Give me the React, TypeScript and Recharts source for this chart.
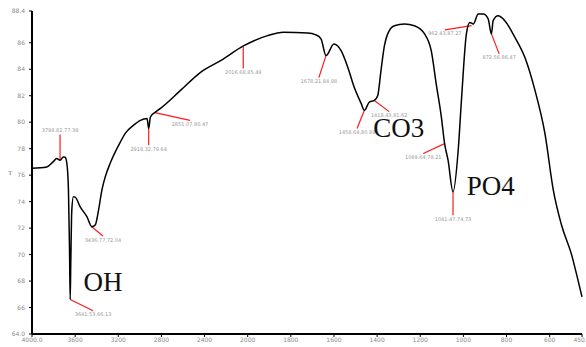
import { LineChart, Line, XAxis, YAxis, ReferenceLine, ReferenceDot } from 'recharts'

// FTIR spectrum, wavenumber (cm-1) vs transmittance
const wavenumbers = [
  4000, 3863, 3805, 3770, 3740, 3709, 3693, 3677, 3662, 3652, 3646, 3640, 3631, 3616, 3600,
  3553, 3491, 3445, 3414, 3383, 3352, 3321, 3275, 3181, 3135, 3060, 2995, 2933, 2918, 2902,
  2856, 2809, 2623, 2437, 2251, 2035, 1908, 1833, 1722, 1684, 1660, 1637, 1600, 1567, 1536,
  1506, 1474, 1459, 1436, 1413, 1397, 1382, 1366, 1351, 1320, 1273, 1227, 1180, 1149, 1126,
  1102, 1087, 1071, 1048, 1024, 1009, 986, 970, 954, 931, 908, 885, 870, 862, 839,
  808, 761, 715, 668, 622, 583, 545, 498, 475, 450,
]
const transmittance = [
  76.52, 76.62, 77.0, 77.25, 77.12, 77.37, 77.35, 76.9, 74.87, 70.35, 66.6, 69.6, 73.36, 74.36, 74.34,
  73.6, 72.86, 72.1, 72.23, 73.36, 74.87, 75.87, 76.9, 78.5, 79.16, 79.76, 80.14, 80.27, 79.53, 80.39,
  80.76, 81.04, 82.4, 83.77, 84.65, 85.78, 86.54, 86.79, 86.74, 86.6, 86.3, 85.03, 85.9, 85.4, 84.15,
  82.64, 81.42, 80.9, 81.52, 81.64, 82.02, 83.9, 85.78, 86.67, 87.29, 87.42, 87.29, 86.67, 85.4, 82.9,
  80.39, 78.38, 77.13, 74.74, 77.88, 81.64, 86.67, 87.54, 87.42, 88.17, 88.17, 87.8, 86.67, 87.67, 88.04,
  87.67, 86.41, 84.9, 82.4, 79.16, 74.87, 72.23, 69.98, 68.5, 66.8,
]

const xTickValues = [4000, 3600, 3200, 2800, 2400, 2000, 1800, 1600, 1400, 1200, 1000, 800, 600, 450]
const xTickLabels = ['4000.0', '3600', '3200', '2800', '2400', '2000', '1800', '1600', '1400', '1200', '1000', '800', '600', '450.0']
const yTicks = [64, 66, 68, 70, 72, 74, 76, 78, 80, 82, 84, 86, 88.4]
const yTickLabels = ['64.0', '66', '68', '70', '72', '74', '76', '78', '80', '82', '84', '86', '88.4']

// peak markers: from peak point to label point
const peakMarks = [
  { wn: 3740, t: 77.12, wn2: 3740, t2: 79.08, text: '3798.82,77.38', side: 'top' },
  { wn: 3646, t: 66.6, wn2: 3434, t2: 65.75, text: '3641.53,66.13', side: 'bottom' },
  { wn: 3446, t: 72.1, wn2: 3342, t2: 71.4, text: '3436.77,72.04', side: 'bottom' },
  { wn: 2918, t: 79.53, wn2: 2918, t2: 78.25, text: '2918.32,79.64', side: 'bottom' },
  { wn: 2860, t: 80.72, wn2: 2535, t2: 80.14, text: '2851.07,80.47', side: 'bottom' },
  { wn: 2041, t: 85.7, wn2: 2041, t2: 84.05, text: '2016.68,85.49', side: 'bottom' },
  { wn: 1637, t: 85.03, wn2: 1670, t2: 83.37, text: '1678.21,84.98', side: 'bottom' },
  { wn: 1459, t: 80.9, wn2: 1493, t2: 79.53, text: '1458.69,80.89', side: 'bottom' },
  { wn: 1413, t: 81.64, wn2: 1344, t2: 80.8, text: '1418.43,81.62', side: 'bottom' },
  { wn: 1087, t: 78.38, wn2: 1186, t2: 77.63, text: '1089.64,78.21', side: 'bottom' },
  { wn: 1048, t: 74.74, wn2: 1048, t2: 72.98, text: '1041.47,74.73', side: 'bottom' },
  { wn: 962, t: 87.3, wn2: 1086, t2: 86.97, text: '962.43,87.27', side: 'bottom' },
  { wn: 870, t: 86.67, wn2: 834, t2: 85.16, text: '872.56,86.47', side: 'bottom' },
]

const bandLabels = [
  { wn: 3342, t: 68.0, text: 'OH' },
  { wn: 1300, t: 79.6, text: 'CO3' },
  { wn: 873, t: 75.24, text: 'PO4' },
]

// the instrument axis halves its scale below 2000 cm-1
const toPos = (wn: number) => (wn >= 2000 ? (4000 - wn) / 400 : 5 + (2000 - wn) / 200)

const data = wavenumbers.map((wn, i) => ({ pos: toPos(wn), t: transmittance[i] }))
const xTicks = xTickValues.map(toPos)

const tickStyle = { fontSize: 6, fill: '#8a8a8a', fontFamily: 'DejaVu Sans' }

export default function App() {
  return (
    <div style={{ position: 'absolute', left: 0, top: 0, width: 586, height: 347, background: '#fff' }}>
      <LineChart width={586} height={347} data={data} margin={{ top: 11, right: 4, bottom: 1, left: 0 }}>
        <XAxis
          dataKey="pos"
          type="number"
          domain={[0, toPos(450)]}
          ticks={xTicks}
          interval={0}
          tickFormatter={(v, i) => xTickLabels[i]}
          tick={tickStyle}
          tickSize={3}
          tickMargin={1}
          height={12}
          axisLine={{ stroke: '#000', strokeWidth: 2 }}
          tickLine={{ stroke: '#000' }}
        />
        <YAxis
          type="number"
          domain={[64, 88.4]}
          ticks={yTicks}
          interval={0}
          allowDataOverflow
          tickFormatter={(v, i) => yTickLabels[i]}
          tick={tickStyle}
          tickSize={3}
          tickMargin={4}
          width={32}
          axisLine={{ stroke: '#000', strokeWidth: 2 }}
          tickLine={{ stroke: '#000' }}
          label={{ value: 'T', position: 'insideLeft', offset: 8, fontSize: 7, fill: '#777' }}
        />
        {peakMarks.map((p, i) => (
          <ReferenceLine
            key={`seg-${i}`}
            segment={[{ x: toPos(p.wn), y: p.t }, { x: toPos(p.wn2), y: p.t2 }]}
            stroke="#ff1a1a"
            strokeWidth={1.2}
          />
        ))}
        <Line type="monotoneX" dataKey="t" stroke="#000" strokeWidth={1.5} dot={false} isAnimationActive={false} />
        {peakMarks.map((p, i) => (
          <ReferenceDot
            key={`lbl-${i}`}
            x={toPos(p.wn2)}
            y={p.t2}
            r={0.01}
            fill="none"
            stroke="none"
            label={{ value: p.text, position: p.side, offset: 2, fontSize: 5, fill: '#999', fontFamily: 'DejaVu Sans' }}
          />
        ))}
        {bandLabels.map((b, i) => (
          <ReferenceDot
            key={`band-${i}`}
            x={toPos(b.wn)}
            y={b.t}
            r={0.01}
            fill="none"
            stroke="none"
            label={{ value: b.text, position: 'center', fontSize: 27, fill: '#111', fontFamily: 'Liberation Serif' }}
          />
        ))}
      </LineChart>
    </div>
  )
}
